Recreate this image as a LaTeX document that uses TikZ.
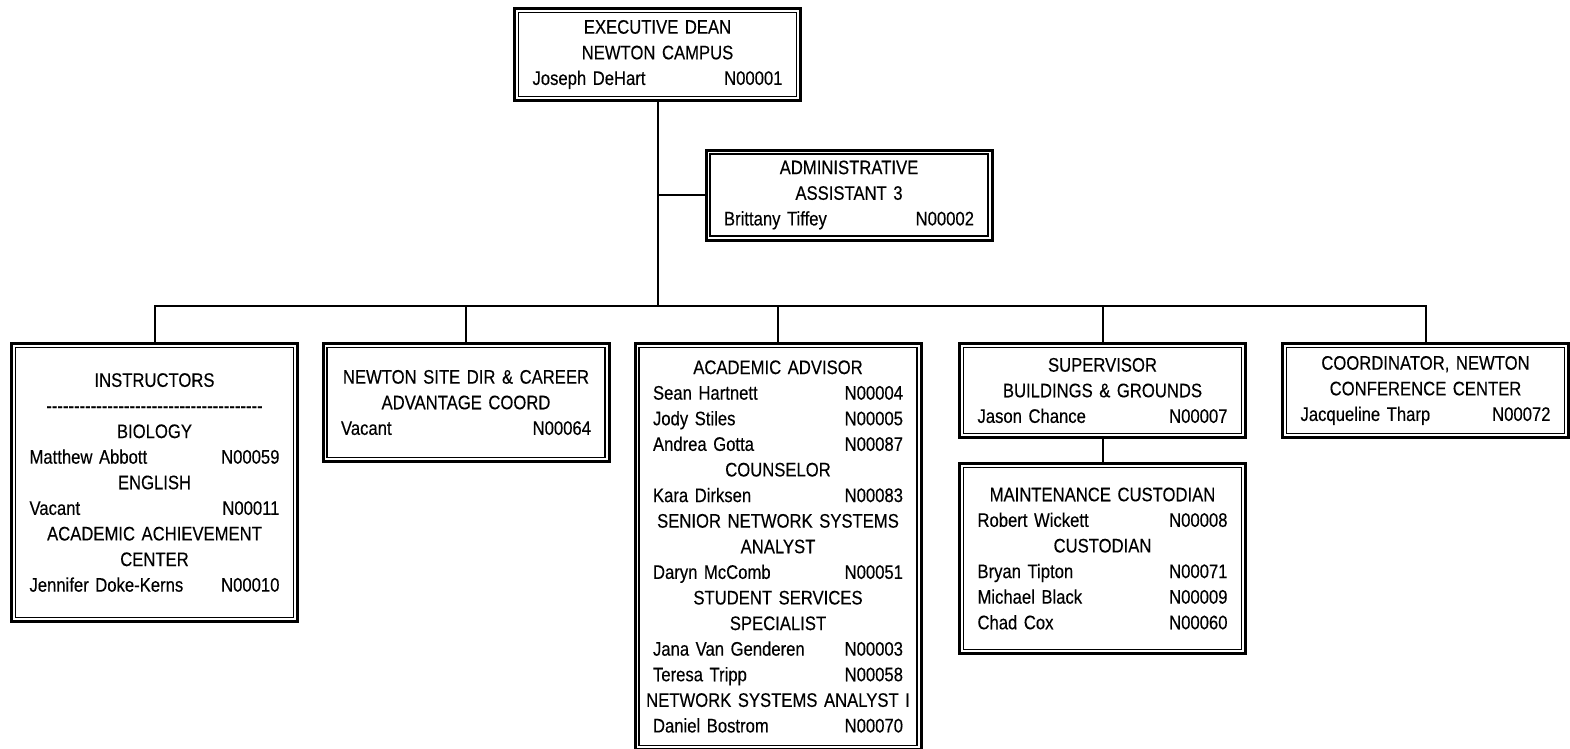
\documentclass[tikz,border=0pt]{standalone}
\usepackage{fontspec}
\setmainfont{Liberation Sans}[FakeStretch=0.85, FakeBold=0.3]
\usetikzlibrary{positioning}

\tikzset{
    post/.style={draw, line width=3pt, inner sep=0pt, align=center,
        text width=250pt, minimum width=286pt,
        font=\fontsize{19.6pt}{25.6pt}\selectfont,
        path picture={\draw[line width=1.6pt]
            ([shift={(4pt,4pt)}]path picture bounding box.south west) rectangle
            ([shift={(-4pt,-4pt)}]path picture bounding box.north east);}},
    link/.style={line width=2pt}
}
\newcommand{\who}[2]{#1\hfill #2}
\newcommand{\dashline}{\foreach \k in {1,...,39}{-\kern0pt}}

\begin{document}
\begin{tikzpicture}[x=1pt, y=-1pt]
    \useasboundingbox (0,0) rectangle (1570,748);

    \node[post, minimum height=92pt] (dean) at (657.5,54.5)
        {EXECUTIVE DEAN\\ NEWTON CAMPUS\\ \who{Joseph DeHart}{N00001}};
    \node[post, minimum height=90pt] (admin) at (849,195)
        {ADMINISTRATIVE\\ ASSISTANT 3\\ \who{Brittany Tiffey}{N00002}};

    \node[post, minimum height=278pt] (instr) at (154.5,482.5)
        {INSTRUCTORS\\ \dashline\\ BIOLOGY\\ \who{Matthew Abbott}{N00059}\\
        ENGLISH\\ \who{Vacant}{N00011}\\ ACADEMIC ACHIEVEMENT\\ CENTER\\
        \who{Jennifer Doke-Kerns}{N00010}};
    \node[post, minimum height=118pt] (site) at (466,402.5)
        {NEWTON SITE DIR \& CAREER\\ ADVANTAGE COORD\\ \who{Vacant}{N00064}};
    \node[post, minimum height=406pt] (adv) at (778,546.5)
        {ACADEMIC ADVISOR\\ \who{Sean Hartnett}{N00004}\\ \who{Jody Stiles}{N00005}\\
        \who{Andrea Gotta}{N00087}\\ COUNSELOR\\ \who{Kara Dirksen}{N00083}\\
        SENIOR NETWORK SYSTEMS\\ ANALYST\\ \who{Daryn McComb}{N00051}\\
        STUDENT SERVICES\\ SPECIALIST\\ \who{Jana Van Genderen}{N00003}\\
        \who{Teresa Tripp}{N00058}\\ \makebox[\linewidth]{NETWORK SYSTEMS ANALYST I}\\
        \who{Daniel Bostrom}{N00070}};
    \node[post, minimum height=94pt] (sup) at (1102.5,390.5)
        {SUPERVISOR\\ BUILDINGS \& GROUNDS\\ \who{Jason Chance}{N00007}};
    \node[post, minimum height=190pt] (maint) at (1102.5,558.5)
        {MAINTENANCE CUSTODIAN\\ \who{Robert Wickett}{N00008}\\ CUSTODIAN\\
        \who{Bryan Tipton}{N00071}\\ \who{Michael Black}{N00009}\\ \who{Chad Cox}{N00060}};
    \node[post, minimum height=94pt] (coord) at (1425.5,390.5)
        {COORDINATOR, NEWTON\\ CONFERENCE CENTER\\ \who{Jacqueline Tharp}{N00072}};

    \coordinate (bus) at (657.5,306);
    \draw[link] (dean.south) -- (bus);
    \draw[link] (admin.west) -- (admin.west -| dean.south);
    \draw[link] (instr.north) |- (bus) -| (coord.north);
    \foreach \n in {site, adv, sup}
        \draw[link] (\n.north) -- (\n.north |- bus);
    \draw[link] (sup) -- (maint);
\end{tikzpicture}
\end{document}
